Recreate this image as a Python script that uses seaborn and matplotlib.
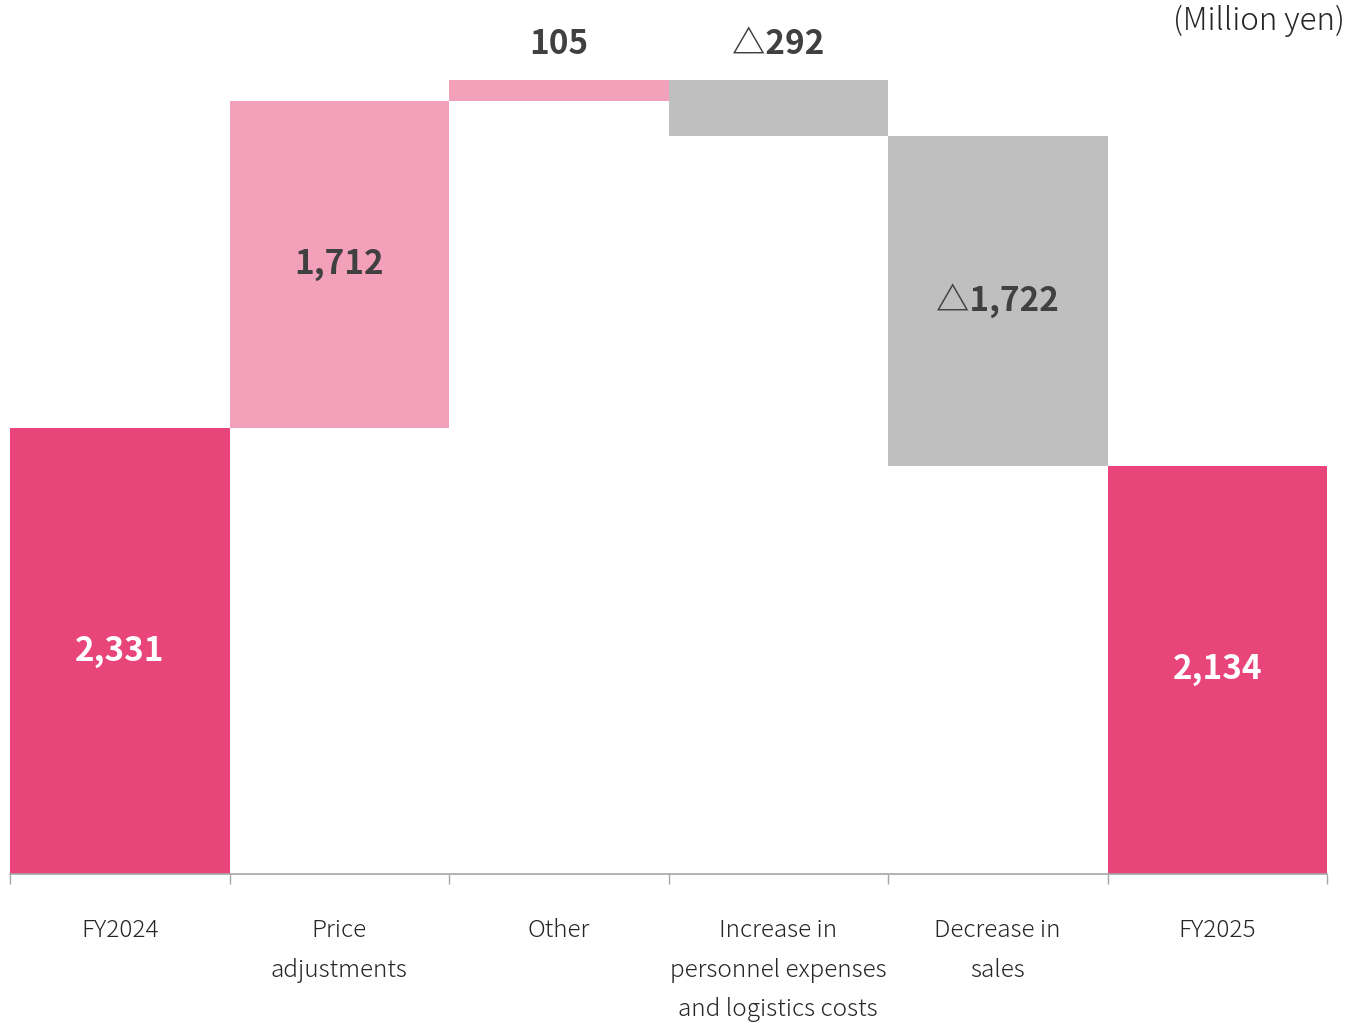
import matplotlib
matplotlib.use("Agg")
import matplotlib.pyplot as plt
import seaborn as sns
import pandas as pd
import numpy as np

categories = ["FY2024", "Price\nadjustments", "Other",
              "Increase in\npersonnel expenses\nand logistics costs",
              "Decrease in\nsales", "FY2025"]
changes = [2331, 1712, 105, -292, -1722, 2134]
kinds = ["total", "up", "up", "down", "down", "total"]
value_labels = ["2,331", "1,712", "105", "△292", "△1,722", "2,134"]
unit_label = "(Million yen)"

# waterfall bottoms / tops
bottoms, tops = [], []
running = 0
for c, k in zip(changes, kinds):
    if k == "total":
        bottoms.append(0); tops.append(c); running = c
    else:
        new = running + c
        bottoms.append(min(running, new)); tops.append(max(running, new)); running = new
heights = [t - b for t, b in zip(tops, bottoms)]

df = pd.DataFrame({"cat": categories, "height": heights, "bottom": bottoms, "kind": kinds})

colors = {"total": "#E8457A", "up": "#F3A0BA", "down": "#BFBFBF"}

sns.set_theme(style="white")
plt.rcParams["font.family"] = ["Noto Sans CJK JP", "DejaVu Sans"]

fig = plt.figure(figsize=(13.47, 10.22), dpi=100)
ax = fig.add_axes([10/1347, (1022-874)/1022, (1327-10)/1347, 874/1022])

sns.barplot(data=df, x="cat", y="height", bottom=df["bottom"].values, width=1.0,
            color=colors["total"], saturation=1, linewidth=0, ax=ax, errorbar=None)
for p, k in zip(ax.patches, kinds):
    p.set_facecolor(colors[k])
    p.set_edgecolor("none")

ax.set_xlim(-0.5, 5.5)
px_per_unit = 0.1913
ax.set_ylim(0, 874 / px_per_unit)

for i, (b, t, k, lab) in enumerate(zip(bottoms, tops, kinds, value_labels)):
    h = t - b
    if k == "total":
        ax.text(i, (b + t) / 2, lab, ha="center", va="center", color="white",
                fontsize=24, fontweight="bold")
    elif h < 500:
        ax.annotate(lab, (i, t), xytext=(0, 26), textcoords="offset points",
                    ha="center", va="center", color="#404040", fontsize=24, fontweight="bold")
    else:
        ax.text(i, (b + t) / 2, lab, ha="center", va="center", color="#404040",
                fontsize=24, fontweight="bold")

ax.set_xlabel(""); ax.set_ylabel("")
ax.set_yticks([])
ax.set_xticks(range(len(categories)))
ax.set_xticklabels(categories, fontsize=17.5, color="#262626", linespacing=1.75,
                   va="top", fontweight=300)
ax.tick_params(axis="x", which="major", length=0, pad=32, bottom=True)
ax.set_xticks(np.arange(-0.5, 6, 1.0), minor=True)
ax.tick_params(axis="x", which="minor", length=7, width=1, color="#A6A6A6",
               direction="out", bottom=True)
for s in ["top", "right", "left"]:
    ax.spines[s].set_visible(False)
ax.spines["bottom"].set_color("#A6A6A6")
ax.spines["bottom"].set_linewidth(1.2)

fig.text(1345/1347, 1 - 21/1022, unit_label, ha="right", va="center", fontsize=22.5,
         color="#262626", fontweight=300)

fig.savefig("out.png", dpi=100, facecolor="white")
